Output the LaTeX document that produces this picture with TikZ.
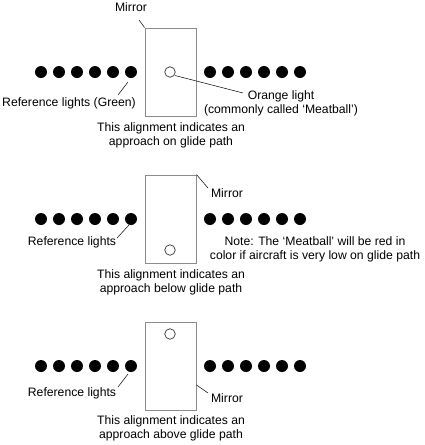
\documentclass[tikz,border=0pt]{standalone}
\usepackage{fontspec}
\setmainfont{Liberation Sans}
\usepackage{tikz}
\usetikzlibrary{positioning,calc}

\begin{document}
\begin{tikzpicture}[x=1pt, y=-1pt,
  lamp/.style={circle, fill=black, inner sep=0pt, minimum size=12pt},
  meatball/.style={circle, draw=black!80, line width=0.7pt, fill=white, inner sep=0pt, minimum size=10.5pt},
  mirrorbox/.style={rectangle, draw=black!45, line width=0.9pt, minimum width=51pt, minimum height=88pt, inner sep=0pt},
  lbl/.style={font=\fontsize{12.2}{14}\selectfont, inner sep=0pt, align=center},
  leader/.style={black, line width=0.5pt}]
\useasboundingbox (0,0) rectangle (424,445);

% on glide path
\begin{scope}
\node[mirrorbox] (abox) at (170.5,72) {};
\foreach \i/\x in {1/41,2/59,3/77,4/95,5/113,6/131}
  \node[lamp] (al\i) at (\x,72) {};
\foreach \i/\x in {1/210,2/228,3/246,4/264,5/282,6/300}
  \node[lamp] (ar\i) at (\x,72) {};
\node[meatball] (aball) at (170,72) {};
\node[lbl] (amirror) at (131,7) {Mirror};
\node[lbl] (aref) at (69,103) {Reference lights (Green)};
\node[lbl] (aorange) at (281,103) {Orange light\\(commonly called ‘Meatball’)};
\node[lbl] (atext) at (171,135.5) {This alignment indicates an\\approach on glide path};
\coordinate (am) at (139,20);
\coordinate (ar) at (118,95);
\coordinate (ao) at (243,93);
\draw[leader] (am) -- (abox.north west);
\draw[leader] (ar) -- ($(al6)+(-3,10)$);
\draw[leader] ($(aball)+(5,3.5)$) -- (ao);
\end{scope}

% below glide path
\begin{scope}[shift={(0,147)}]
\node[mirrorbox] (bbox) at (170.5,72) {};
\foreach \i/\x in {1/41,2/59,3/77,4/95,5/113,6/131}
  \node[lamp] (bl\i) at (\x,72) {};
\foreach \i/\x in {1/210,2/228,3/246,4/264,5/282,6/300}
  \node[lamp] (br\i) at (\x,72) {};
\node[meatball] (bball) at (170,103) {};
\node[lbl] (bmirror) at (227,46) {Mirror};
\node[lbl] (bref) at (72,95) {Reference lights};
\node[lbl] (bnote) at (315,102) {Note: The ‘Meatball’ will be red in\\color if aircraft is very low on glide path};
\node[lbl] (btext) at (171,135) {This alignment indicates an\\approach below glide path};
\coordinate (bm) at (208,41);
\coordinate (br) at (117,91);
\draw[leader] (bbox.north east) -- (bm);
\draw[leader] (br) -- ($(bl6)+(-2,6)$);
\end{scope}

% above glide path
\begin{scope}[shift={(0,294)}]
\node[mirrorbox] (cbox) at (170.5,72) {};
\foreach \i/\x in {1/41,2/59,3/77,4/95,5/113,6/131}
  \node[lamp] (cl\i) at (\x,72) {};
\foreach \i/\x in {1/210,2/228,3/246,4/264,5/282,6/300}
  \node[lamp] (cr\i) at (\x,72) {};
\node[meatball] (cball) at (170,40) {};
\node[lbl] (cmirror) at (227,104) {Mirror};
\node[lbl] (cref) at (72,99) {Reference lights};
\node[lbl] (ctext) at (171,134) {This alignment indicates an\\approach above glide path};
\coordinate (cm) at (208,99);
\coordinate (cr) at (118,93);
\draw[leader] ($(cbox.east)+(0,19)$) -- (cm);
\draw[leader] (cr) -- ($(cl6)+(-3,8)$);
\end{scope}
\end{tikzpicture}
\end{document}
